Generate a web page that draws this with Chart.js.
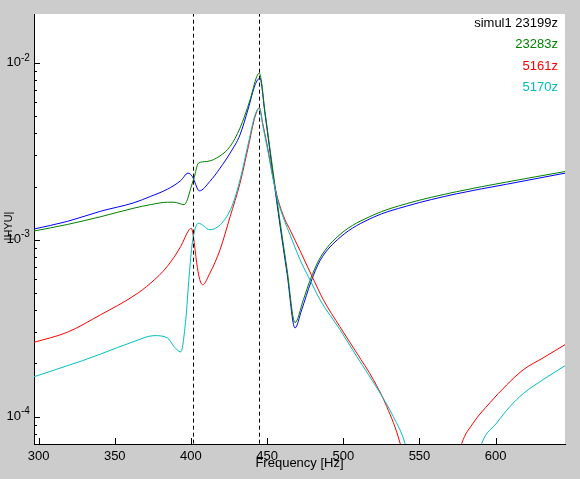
<!DOCTYPE html>
<html>
<head>
<meta charset="utf-8">
<script src="https://cdn.jsdelivr.net/npm/chart.js@4/dist/chart.umd.min.js"></script>
<style>
  body { margin: 0; background: #cccccc; }
  canvas { display: block; }
</style>
</head>
<body>
<canvas id="chart" width="580" height="479"></canvas>
<script>
// axis + labels
const xTicks = [300, 350, 400, 450, 500, 550, 600];
const yTicks = [1e-4, 1e-3, 1e-2];
const yTickExps = ['-4', '-3', '-2'];
const xRange = [297, 645.5];
const yRange = [7.03e-5, 1.89e-2];
const markerFreqs = [401.7, 445.0];
const legendLabels = ['simul1 23199z', '23283z', '5161z', '5170z'];

// simul1 23199z (blue)
const blueFreq = [297.0, 318.9, 340.8, 362.7, 373.6, 384.5, 393.3, 398.1, 400.9, 405.5, 412.5, 419.1, 425.7, 432.2, 437.7, 442.1, 445.3,
    448.6, 453.9, 458.5, 463.1, 468.3, 472.7, 478.8, 484.7, 497.8, 519.7, 541.6, 574.4, 607.2, 645.5];
const blueMag = [1.15e-3, 1.27e-3, 1.45e-3, 1.62e-3, 1.76e-3, 1.93e-3, 2.16e-3, 2.38e-3, 2.28e-3, 1.89e-3, 2.14e-3, 2.54e-3, 3.09e-3, 3.92e-3, 5.55e-3, 7.51e-3, 8.20e-3,
    5.15e-3, 2.33e-3, 1.20e-3, 6.43e-4, 3.17e-4, 4.02e-4, 5.79e-4, 7.61e-4, 1.03e-3, 1.34e-3, 1.55e-3, 1.82e-3, 2.06e-3, 2.38e-3];

// 23283z (green)
const greenFreq = [297.0, 318.9, 340.8, 362.7, 373.6, 384.5, 388.9, 395.5, 397.6, 399.9, 402.0, 404.9, 410.4, 419.1, 425.7, 432.2, 438.8, 443.2, 444.9,
    448.6, 453.9, 458.5, 463.1, 468.3, 473.8, 478.1, 484.7, 497.8, 519.7, 541.6, 574.4, 607.2, 645.5];
const greenMag = [1.12e-3, 1.22e-3, 1.35e-3, 1.51e-3, 1.58e-3, 1.63e-3, 1.63e-3, 1.58e-3, 1.68e-3, 1.96e-3, 2.23e-3, 2.71e-3, 2.77e-3, 2.98e-3, 3.37e-3, 4.28e-3, 6.18e-3, 8.37e-3, 8.75e-3,
    5.29e-3, 2.42e-3, 1.26e-3, 6.77e-4, 3.40e-4, 4.58e-4, 5.87e-4, 7.88e-4, 1.07e-3, 1.38e-3, 1.60e-3, 1.87e-3, 2.12e-3, 2.43e-3];

// 5161z (red)
const redFreq = [297.0, 318.9, 340.8, 362.7, 373.6, 384.5, 393.3, 398.8, 400.3, 401.6, 403.8, 405.5, 407.7, 412.5, 419.1, 425.7, 432.2, 437.7, 442.1, 444.9,
    447.3, 450.6, 453.9, 457.2, 461.7, 465.0, 471.6, 479.3, 486.9, 497.8, 508.8, 519.7, 528.5, 537.2, 545.0, 557.0, 569.0,
    577.7, 585.3, 596.3, 607.2, 618.1, 631.2, 645.5];
const redMag = [2.63e-4, 3.00e-4, 3.77e-4, 4.83e-4, 5.69e-4, 7.07e-4, 9.17e-4, 1.14e-3, 1.16e-3, 1.04e-3, 7.39e-4, 6.08e-4, 5.57e-4, 6.49e-4, 8.78e-4, 1.35e-3, 2.09e-3, 3.37e-3, 4.97e-3, 5.57e-3,
    4.46e-3, 3.23e-3, 2.24e-3, 1.68e-3, 1.30e-3, 1.14e-3, 8.67e-4, 6.26e-4, 4.58e-4, 3.22e-4, 2.29e-4, 1.62e-4, 1.14e-4, 7.10e-5, 3.5e-5, 1.2e-5, 3.5e-5,
    7.04e-5, 9.21e-5, 1.20e-4, 1.51e-4, 1.84e-4, 2.15e-4, 2.55e-4];

// 5170z (cyan)
const cyanFreq = [297.0, 318.9, 328.7, 340.8, 362.7, 375.8, 384.5, 388.9, 393.3, 396.6, 398.8, 400.9, 404.9, 412.5, 420.2, 426.8, 432.2, 437.7, 442.1, 444.9,
    447.3, 450.6, 453.9, 457.2, 461.7, 465.0, 471.6, 478.1, 484.7, 497.8, 508.8, 524.1, 532.8, 540.5, 550.0, 565.0, 580.0,
    590.8, 600.7, 609.4, 618.1, 631.2, 645.5];
const cyanMag = [1.68e-4, 1.94e-4, 2.07e-4, 2.26e-4, 2.66e-4, 2.87e-4, 2.79e-4, 2.49e-4, 2.32e-4, 3.53e-4, 6.20e-4, 9.58e-4, 1.24e-3, 1.14e-3, 1.24e-3, 1.54e-3, 2.18e-3, 3.52e-3, 5.08e-3, 5.55e-3,
    4.35e-3, 3.14e-3, 2.21e-3, 1.64e-3, 1.26e-3, 1.07e-3, 7.71e-4, 5.94e-4, 4.58e-4, 3.10e-4, 2.19e-4, 1.36e-4, 1.00e-4, 7.04e-5, 3.0e-5, 1.2e-5, 3.0e-5,
    7.04e-5, 9.21e-5, 1.14e-4, 1.35e-4, 1.62e-4, 1.94e-4];

const lineColors = ['#0000ff', '#008000', '#ff0000', '#00bfbf'];
const textColors = ['#000000', '#008000', '#ff0000', '#00bfbf'];
const FONT = '"Liberation Sans", Arial, sans-serif';

const toPoints = (fs, ms) => fs.map((f, i) => ({ x: f, y: ms[i] }));

const series = [
    toPoints(blueFreq, blueMag),
    toPoints(greenFreq, greenMag),
    toPoints(redFreq, redMag),
    toPoints(cyanFreq, cyanMag),
];

const datasets = series.map((pts, i) => ({
    label: legendLabels[i],
    data: pts,
    borderColor: lineColors[i],
    borderWidth: 1,
    pointRadius: 0,
    cubicInterpolationMode: 'monotone',
    order: 4 - i,
}));

// dashed markers
markerFreqs.forEach(f => {
    datasets.push({
        label: '',
        data: [{ x: f, y: yRange[0] }, { x: f, y: yRange[1] }],
        borderColor: '#000',
        borderWidth: 1,
        borderDash: [4, 3],
        pointRadius: 0,
        order: 0,
    });
});

const decorations = {
    id: 'decorations',
    beforeDraw(chart) {
        const { ctx, chartArea: a } = chart;
        ctx.save();
        ctx.fillStyle = '#cccccc';
        ctx.fillRect(0, 0, chart.width, chart.height);
        ctx.fillStyle = '#ffffff';
        ctx.fillRect(a.left, a.top, a.right - a.left, a.bottom - a.top);
        ctx.restore();
    },
    afterDraw(chart) {
        const { ctx, chartArea: a, scales } = chart;
        const xs = scales.x, ys = scales.y;
        ctx.save();
        ctx.strokeStyle = '#000';
        ctx.lineWidth = 1;

        // inward ticks on y (log, with minors)
        ctx.beginPath();
        for (let k = -5; k <= -1; k++) {
            for (let m = 1; m <= 9; m++) {
                const v = m * Math.pow(10, k);
                if (v <= yRange[0] || v >= yRange[1]) continue;
                const py = Math.round(ys.getPixelForValue(v)) + 0.5;
                const len = m === 1 ? 6 : 3;
                ctx.moveTo(a.left, py);
                ctx.lineTo(a.left + len, py);
            }
        }
        // inward ticks on x
        xTicks.forEach(v => {
            const px = Math.round(xs.getPixelForValue(v)) + 0.5;
            ctx.moveTo(px, a.bottom);
            ctx.lineTo(px, a.bottom - 6);
        });
        ctx.stroke();

        // y tick labels 10^n
        ctx.fillStyle = '#000';
        yTicks.forEach((v, i) => {
            const py = ys.getPixelForValue(v);
            ctx.font = '13px ' + FONT;
            ctx.textAlign = 'right';
            ctx.textBaseline = 'middle';
            ctx.fillText('10', 21, py);
            ctx.font = '10px ' + FONT;
            ctx.textAlign = 'left';
            ctx.fillText(yTickExps[i], 21, py - 5);
        });

        // axis titles
        ctx.font = '13px ' + FONT;
        ctx.textAlign = 'center';
        ctx.textBaseline = 'middle';
        ctx.fillText('Frequency [Hz]', (a.left + a.right) / 2, 463);

        ctx.save();
        ctx.translate(9, 226);
        ctx.rotate(-Math.PI / 2);
        ctx.font = '11px ' + FONT;
        ctx.fillText('|HYU|', 0, 0);
        ctx.restore();

        // legend text
        ctx.font = '13px ' + FONT;
        ctx.textAlign = 'right';
        legendLabels.forEach((t, i) => {
            ctx.fillStyle = textColors[i];
            ctx.fillText(t, 558, 23 + i * 21.6);
        });
        ctx.restore();
    }
};

new Chart(document.getElementById('chart').getContext('2d'), {
    type: 'line',
    data: { datasets },
    options: {
        responsive: false,
        animation: false,
        devicePixelRatio: 1,
        layout: { padding: { top: 14, right: 15, left: 0, bottom: 0 } },
        plugins: {
            legend: { display: false },
            tooltip: { enabled: false },
        },
        scales: {
            x: {
                type: 'linear',
                min: xRange[0],
                max: xRange[1],
                afterBuildTicks: s => { s.ticks = xTicks.map(v => ({ value: v })); },
                afterFit: s => { s.height = 35; },
                ticks: {
                    color: '#000',
                    font: { family: FONT, size: 13 },
                    padding: 5,
                    maxRotation: 0,
                    autoSkip: false,
                },
                grid: { drawOnChartArea: false, drawTicks: false },
                border: { color: '#000', width: 1 },
            },
            y: {
                type: 'logarithmic',
                min: yRange[0],
                max: yRange[1],
                afterFit: s => { s.width = 34; },
                ticks: { display: false },
                grid: { drawOnChartArea: false, drawTicks: false },
                border: { color: '#000', width: 1 },
            },
        },
    },
    plugins: [decorations],
});
</script>
</body>
</html>
